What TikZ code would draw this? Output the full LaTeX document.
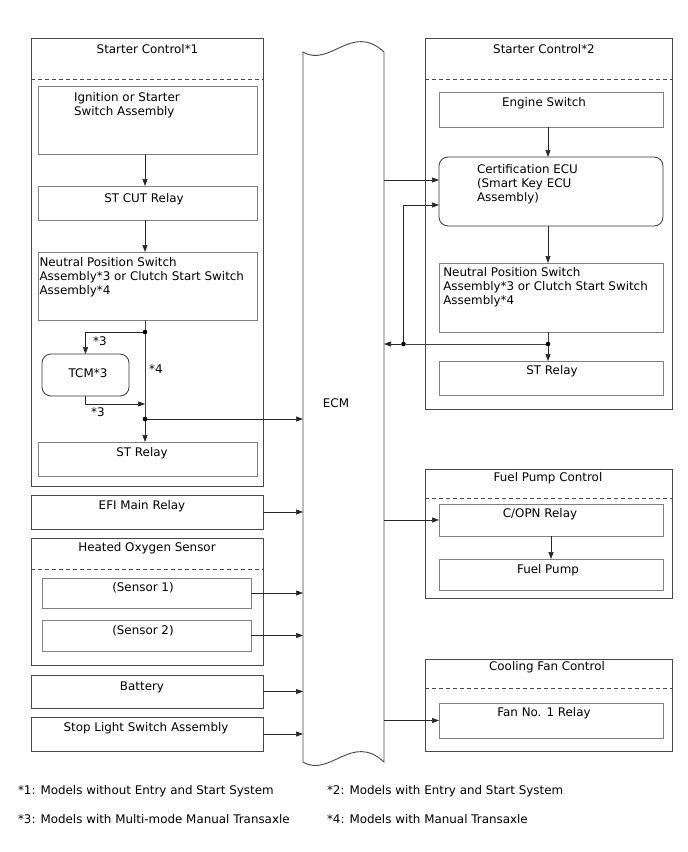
\documentclass[tikz,border=0pt]{standalone}
\usepackage{fontspec}
\setmainfont{DejaVu Sans}
\usetikzlibrary{arrows.meta}
\newcommand{\bxn}[6]{\node[#1, anchor=north west, minimum width={#5-#3}, minimum height={#6-#4}] (#2) at (#3,#4) {};}
\tikzset{
  outerbox/.style={draw=black!72, line width=0.9pt, inner sep=0pt, outer sep=0pt, rectangle},
  innerbox/.style={draw=black!50, line width=0.8pt, inner sep=0pt, outer sep=0pt, rectangle},
  rinnerbox/.style={innerbox, draw=black!78, rounded corners=9pt},
  arr/.style={draw=black!85, line width=0.7pt, -{Triangle[length=7pt,width=5pt]}},
  ln/.style={draw=black!75, line width=0.7pt},
  jdot/.style={circle, fill=black, inner sep=0pt, minimum size=4.6pt, outer sep=0pt},
  dashline/.style={draw=black!72, line width=0.8pt, dash pattern=on 4pt off 3pt},
  txt/.style={inner sep=0pt, outer sep=0pt, font=\fontsize{11.9}{14}\selectfont},
  ctxt/.style={txt, anchor=base},
  ltxt/.style={txt, anchor=base west}
}
\begin{document}
\begin{tikzpicture}[x=1pt, y=-1pt]
\useasboundingbox (0,0) rectangle (688,852);
\fill[white] (0,0) rectangle (688,852);

% ---------- ECM ----------
\node[inner sep=0pt, outer sep=0pt, minimum width=81pt, minimum height=710pt] (ecm) at (343.5,407) {};
\draw[draw=black!72, line width=0.9pt]
  (303,52) .. controls (330,68) and (352,22) .. (384,52)
  -- (384,762) .. controls (352,732) and (330,778) .. (303,762) -- cycle;
\node[txt] (ecmt) at (336,403) {ECM};

% ---------- Starter Control *1 ----------
\bxn{outerbox}{sc1}{31}{38}{263}{486}
\node[ctxt] (sc1t) at (147.5,53.5) {Starter Control*1};
\coordinate (sc1d) at (31,79);
\draw[dashline] (sc1d) -- (sc1d -| sc1.east);

\bxn{innerbox}{ign}{38}{86}{257}{154}
\node[ltxt] (ignt1) at (74,101) {Ignition or Starter};
\node[ltxt] (ignt2) at (74,115) {Switch Assembly};

\bxn{innerbox}{stcut}{38}{186}{257}{220}
\node[ctxt] (stcutt) at (144,202) {ST CUT Relay};

\bxn{innerbox}{neu}{38}{252}{257}{320}
\node[ltxt] (neut1) at (39.5,266) {Neutral Position Switch};
\node[ltxt] (neut2) at (39.5,280) {Assembly*3 or Clutch Start Switch};
\node[ltxt] (neut3) at (39.5,294.3) {Assembly*4};

\bxn{rinnerbox}{tcm}{42}{354}{129}{396}
\node[txt] (tcmt) at (88,373) {TCM*3};

\bxn{innerbox}{strel}{38}{442}{257}{476}
\node[ctxt] (strelt) at (142,456) {ST Relay};

\coordinate (lx) at (145,0);
\coordinate (jt) at (145,404);
\node[jdot] (d1) at (145,332) {};
\node[jdot] (d2) at (145,419) {};

\draw[arr] (ign.south -| lx) -- (stcut.north -| lx);
\draw[arr] (stcut.south -| lx) -- (neu.north -| lx);
\draw[ln] (neu.south -| lx) -- (d1);
\draw[ln] (d1) -- (d2);
\draw[arr] (d1) -| (tcm.north);
\draw[arr] (tcm.south) |- (jt);
\draw[arr] (d2) -- (strel.north -| lx);
\draw[arr] (d2) -- (d2 -| ecm.west);
\node[txt] (l3a) at (100,341) {*3};
\node[txt] (l3b) at (98,412) {*3};
\node[txt] (l4) at (156,369) {*4};

% ---------- EFI ----------
\bxn{outerbox}{efi}{31}{495}{263}{529}
\node[ctxt] (efit) at (142,509.5) {EFI Main Relay};
\draw[arr] (efi.east) -- (efi.east -| ecm.west);

% ---------- Heated Oxygen Sensor ----------
\bxn{outerbox}{hos}{31}{538}{263}{665}
\node[ctxt] (host) at (147,551.5) {Heated Oxygen Sensor};
\coordinate (hosd) at (31,569);
\draw[dashline] (hosd) -- (hosd -| hos.east);
\bxn{innerbox}{sa}{42}{578}{251}{608}
\node[ctxt] (sat) at (143,591) {(Sensor 1)};
\bxn{innerbox}{sb}{42}{620}{251}{651}
\node[ctxt] (sbt) at (143,634.5) {(Sensor 2)};
\draw[arr] (sa.east) -- (sa.east -| ecm.west);
\draw[arr] (sb.east) -- (sb.east -| ecm.west);

% ---------- Battery / Stop light ----------
\bxn{outerbox}{bat}{31}{675}{263}{708}
\node[ctxt] (batt) at (142,690.5) {Battery};
\draw[arr] (bat.east) -- (bat.east -| ecm.west);
\bxn{outerbox}{stop}{31}{717}{263}{751}
\node[ctxt] (stopt) at (146,731.5) {Stop Light Switch Assembly};
\draw[arr] (stop.east) -- (stop.east -| ecm.west);

% ---------- Starter Control *2 ----------
\bxn{outerbox}{sc2}{425}{38}{672}{409}
\node[ctxt] (sc2t) at (544,53.5) {Starter Control*2};
\coordinate (sc2d) at (425,79);
\draw[dashline] (sc2d) -- (sc2d -| sc2.east);

\bxn{innerbox}{eng}{439}{92}{663}{127}
\node[ctxt] (engt) at (544,106) {Engine Switch};

\bxn{rinnerbox}{cert}{439}{157}{663}{226}
\node[ltxt] (certt1) at (477,173.3) {Certification ECU};
\node[ltxt] (certt2) at (477,187.3) {(Smart Key ECU};
\node[ltxt] (certt3) at (477,201.3) {Assembly)};

\bxn{innerbox}{nR}{439}{263}{663}{332}
\node[ltxt] (nRt1) at (443.3,276) {Neutral Position Switch};
\node[ltxt] (nRt2) at (443.3,290) {Assembly*3 or Clutch Start Switch};
\node[ltxt] (nRt3) at (443.3,304.3) {Assembly*4};

\bxn{innerbox}{stR}{439}{361}{663}{395}
\node[ctxt] (stRt) at (552,374.5) {ST Relay};

\coordinate (rx) at (548,0);
\coordinate (y180) at (0,180);
\coordinate (y205) at (0,205);
\node[jdot] (r1) at (548,344) {};
\node[jdot] (r2) at (403.5,344) {};

\draw[arr] (eng.south -| rx) -- (cert.north -| rx);
\draw[arr] (cert.south -| rx) -- (nR.north -| rx);
\draw[ln] (nR.south -| rx) -- (r1);
\draw[arr] (r1) -- (stR.north -| rx);
\draw[ln] (r1) -- (r2);
\draw[arr] (r2) -- (r2 -| ecm.east);
\draw[arr] (r2) |- (cert.west |- y205);
\draw[arr] (ecm.east |- y180) -- (cert.west |- y180);

% ---------- Fuel Pump Control ----------
\bxn{outerbox}{fpc}{425}{469}{672}{598}
\node[ctxt] (fpct) at (548,481) {Fuel Pump Control};
\coordinate (fpcd) at (425,498);
\draw[dashline] (fpcd) -- (fpcd -| fpc.east);
\bxn{innerbox}{copn}{439}{504}{663}{536}
\node[ctxt] (copnt) at (540,517) {C/OPN Relay};
\bxn{innerbox}{fp}{439}{559}{663}{590}
\node[ctxt] (fpt) at (548,573.5) {Fuel Pump};
\draw[arr] (copn.south) -- (fp.north);
\draw[arr] (copn.west -| ecm.east) -- (copn.west);

% ---------- Cooling Fan Control ----------
\bxn{outerbox}{cfc}{425}{659}{672}{751}
\node[ctxt] (cfct) at (547,670.5) {Cooling Fan Control};
\coordinate (cfcd) at (425,688);
\draw[dashline] (cfcd) -- (cfcd -| cfc.east);
\bxn{innerbox}{fan}{439}{703}{663}{738}
\node[ctxt] (fant) at (544,716.7) {Fan No. 1 Relay};
\draw[arr] (fan.west -| ecm.east) -- (fan.west);

% ---------- Footnotes ----------
\node[ltxt] (fn1) at (18,794) {*1: Models without Entry and Start System};
\node[ltxt] (fn2) at (327,794) {*2: Models with Entry and Start System};
\node[ltxt] (fn3) at (18,823) {*3: Models with Multi-mode Manual Transaxle};
\node[ltxt] (fn4) at (327,823) {*4: Models with Manual Transaxle};
\end{tikzpicture}
\end{document}
